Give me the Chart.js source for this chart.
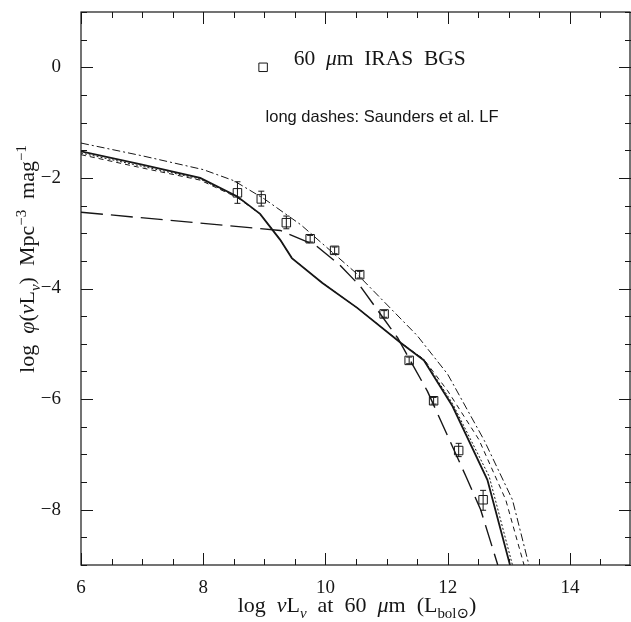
<!DOCTYPE html>
<html lang="en">
<head>
    <meta charset="UTF-8">
    <title>60 micron IRAS BGS luminosity function</title>
    <script src="https://cdn.jsdelivr.net/npm/chart.js"></script>
    <style>
        html, body { margin: 0; padding: 0; background: #fff; }
        #wrap { width: 631px; height: 622px; }
    </style>
</head>
<body>
    <div id="wrap"><canvas id="lf_chart" width="631" height="622"></canvas></div>

    <script>
        // IRAS BGS points (log L, log phi) and their error bar ends
        const bgsX = [8.56, 8.95, 9.36, 9.75, 10.15, 10.56, 10.96, 11.37, 11.77, 12.18, 12.58];
        const bgsY = [-2.27, -2.38, -2.81, -3.10, -3.31, -3.75, -4.46, -5.30, -6.03, -6.93, -7.82];
        const bgsLo = [-2.46, -2.51, -2.92, -3.16, -3.37, -3.81, -4.52, -5.36, -6.09, -7.04, -8.01];
        const bgsHi = [-2.07, -2.24, -2.69, -3.04, -3.25, -3.69, -4.40, -5.24, -5.97, -6.80, -7.65];

        // model curves
        const solidX = [6, 7, 7.95, 8.55, 8.93, 9.26, 9.45, 9.95, 10.52, 11.23, 11.61, 12.08, 12.65, 13.02];
        const solidY = [-1.52, -1.76, -2.0, -2.33, -2.65, -3.12, -3.45, -3.90, -4.35, -4.98, -5.30, -6.13, -7.46, -9.0];

        const dottedX = [6, 7, 7.95, 8.55, 8.93, 9.26, 9.45, 9.95, 10.52, 11.23, 11.61, 12.08, 12.68, 13.06];
        const dottedY = [-1.55, -1.79, -2.02, -2.34, -2.65, -3.12, -3.45, -3.90, -4.35, -4.98, -5.28, -6.08, -7.40, -9.0];

        const shortX = [6, 7, 7.95, 8.55, 8.93, 9.26, 9.45, 9.95, 10.52, 11.23, 11.61, 12.0, 12.51, 12.95, 13.25];
        const shortY = [-1.58, -1.82, -2.04, -2.35, -2.65, -3.12, -3.45, -3.90, -4.35, -4.98, -5.28, -5.85, -6.73, -7.82, -9.0];

        const dotDashX = [6, 7, 8, 8.5, 9.0, 9.6, 10.5, 11.5, 12.0, 12.6, 13.06, 13.33];
        const dotDashY = [-1.37, -1.6, -1.85, -2.05, -2.38, -2.85, -3.72, -4.85, -5.55, -6.75, -7.82, -9.0];

        const saundersX = [6, 9.26, 9.84, 10.23, 10.57, 11.18, 11.67, 12.30, 12.54, 12.82];
        const saundersY = [-2.62, -2.95, -3.22, -3.57, -3.96, -4.89, -5.86, -7.40, -8.0, -9.0];

        // axis ticks
        const xTicks = [6, 8, 10, 12, 14];
        const yTicks = [-8, -6, -4, -2, 0];

        const ink = "#161616";
        const serif = "'Liberation Serif', 'DejaVu Serif', serif";

        function pts(xs, ys) {
            return xs.map((x, i) => ({ x: x, y: ys[i] }));
        }

        function curve(data, dash, width) {
            return {
                data: data,
                showLine: true,
                borderColor: ink,
                borderWidth: width,
                borderDash: dash,
                pointRadius: 0,
                fill: false,
                tension: 0
            };
        }

        // draw a string made of pieces, some of them sub/superscript
        function richWidth(ctx, parts, size) {
            let w = 0;
            parts.forEach(p => {
                const s = p.sub || p.sup ? size * 0.68 : size;
                ctx.font = (p.it ? "italic " : "") + s + "px " + serif;
                w += ctx.measureText(p.t).width;
            });
            return w;
        }
        function drawRich(ctx, parts, x, y, size) {
            let cx = x - richWidth(ctx, parts, size) / 2;
            parts.forEach(p => {
                const s = p.sub || p.sup ? size * 0.68 : size;
                ctx.font = (p.it ? "italic " : "") + s + "px " + serif;
                let dy = 0;
                if (p.sub) dy = size * 0.28;
                if (p.sup) dy = -size * 0.38;
                ctx.fillText(p.t, cx, y + dy);
                cx += ctx.measureText(p.t).width;
            });
        }

        const framePlugin = {
            id: "frame",
            afterDatasetsDraw(chart) {
                const ctx = chart.ctx;
                const xs = chart.scales.x, ys = chart.scales.y;
                const a = chart.chartArea;
                ctx.save();
                ctx.strokeStyle = ink;
                ctx.lineWidth = 1.2;
                ctx.strokeRect(a.left, a.top, a.right - a.left - 1, a.bottom - a.top);

                // inward ticks on all four sides, every 0.5
                ctx.lineWidth = 1;
                ctx.beginPath();
                for (let v = xs.min; v <= xs.max + 1e-6; v += 0.5) {
                    const px = Math.round(xs.getPixelForValue(v)) + 0.5;
                    const len = (v % 2 === 0) ? 12 : 6;
                    ctx.moveTo(px, a.bottom); ctx.lineTo(px, a.bottom - len);
                    ctx.moveTo(px, a.top); ctx.lineTo(px, a.top + len);
                }
                for (let v = ys.min; v <= ys.max + 1e-6; v += 0.5) {
                    const py = Math.round(ys.getPixelForValue(v)) + 0.5;
                    const len = (Math.abs(v) % 2 === 0) ? 12 : 6;
                    ctx.moveTo(a.left, py); ctx.lineTo(a.left + len, py);
                    ctx.moveTo(a.right, py); ctx.lineTo(a.right - len, py);
                }
                ctx.stroke();

                // error bars on the BGS points
                ctx.beginPath();
                bgsX.forEach((x, i) => {
                    const px = xs.getPixelForValue(x);
                    const lo = ys.getPixelForValue(bgsLo[i]);
                    const hi = ys.getPixelForValue(bgsHi[i]);
                    ctx.moveTo(px, lo); ctx.lineTo(px, hi);
                    ctx.moveTo(px - 3, lo); ctx.lineTo(px + 3, lo);
                    ctx.moveTo(px - 3, hi); ctx.lineTo(px + 3, hi);
                });
                ctx.stroke();

                // labels
                ctx.fillStyle = ink;
                ctx.textBaseline = "middle";
                ctx.textAlign = "left";
                const ly = ys.getPixelForValue(0.14);
                let tx = xs.getPixelForValue(9.48);
                ctx.font = "21.5px " + serif;
                ctx.fillText("60  ", tx, ly);
                tx += ctx.measureText("60  ").width;
                ctx.font = "italic 21.5px " + serif;
                ctx.fillText("\u03bc", tx, ly);
                tx += ctx.measureText("\u03bc").width;
                ctx.font = "21.5px " + serif;
                ctx.fillText("m  IRAS  BGS", tx, ly);

                ctx.font = "16.5px 'Liberation Sans', Arial, sans-serif";
                ctx.fillText("long dashes: Saunders et al. LF", xs.getPixelForValue(9.02), ys.getPixelForValue(-0.91));

                // axis titles
                ctx.textBaseline = "alphabetic";
                drawRich(ctx, [
                    { t: "log  " }, { t: "\u03bd", it: true }, { t: "L" }, { t: "\u03bd", it: true, sub: true },
                    { t: "  at  60  " }, { t: "\u03bc", it: true }, { t: "m  (L" }, { t: "bol\u2299", sub: true }, { t: ")" }
                ], 357, 612, 22);

                ctx.translate(27, 259);
                ctx.rotate(-Math.PI / 2);
                drawRich(ctx, [
                    { t: "log  " }, { t: "\u03c6", it: true }, { t: "(" }, { t: "\u03bd", it: true }, { t: "L" },
                    { t: "\u03bd", it: true, sub: true }, { t: ")  Mpc" }, { t: "\u22123", sup: true },
                    { t: "  mag" }, { t: "\u22121", sup: true }
                ], 0, 7, 22);
                ctx.restore();
            }
        };

        new Chart("lf_chart", {
            type: "scatter",
            data: {
                datasets: [
                    curve(pts(dotDashX, dotDashY), [8, 3, 2, 3], 1),
                    curve(pts(shortX, shortY), [5, 4], 1),
                    curve(pts(dottedX, dottedY), [2, 2], 1),
                    curve(pts(saundersX, saundersY), [22, 8], 1.4),
                    curve(pts(solidX, solidY), [], 1.8),
                    {
                        data: pts(bgsX, bgsY),
                        pointStyle: "rect",
                        pointRadius: 6,
                        borderColor: ink,
                        borderWidth: 1,
                        backgroundColor: "rgba(255,255,255,0)"
                    },
                    {
                        // legend symbol next to the label
                        data: [{ x: 8.98, y: 0 }],
                        pointStyle: "rect",
                        pointRadius: 6,
                        borderColor: ink,
                        borderWidth: 1,
                        backgroundColor: "rgba(255,255,255,0)"
                    }
                ]
            },
            options: {
                responsive: false,
                animation: false,
                events: [],
                layout: { autoPadding: false, padding: { top: 12, right: 0, left: 0, bottom: 0 } },
                plugins: {
                    legend: { display: false },
                    tooltip: { enabled: false }
                },
                scales: {
                    x: {
                        type: "linear",
                        min: 6,
                        max: 15,
                        afterBuildTicks: s => { s.ticks = xTicks.map(v => ({ value: v })); },
                        afterFit: s => { s.height = 57; s.paddingLeft = 0; s.paddingRight = 0; },
                        grid: { display: false },
                        border: { display: false },
                        ticks: {
                            color: ink,
                            padding: 4,
                            maxRotation: 0,
                            font: { family: serif, size: 19 }
                        }
                    },
                    y: {
                        type: "linear",
                        min: -9,
                        max: 1,
                        afterBuildTicks: s => { s.ticks = yTicks.map(v => ({ value: v })); },
                        afterFit: s => { s.width = 81; s.paddingTop = 0; s.paddingBottom = 0; },
                        grid: { display: false },
                        border: { display: false },
                        ticks: {
                            color: ink,
                            padding: 12,
                            font: { family: serif, size: 19 },
                            callback: v => (v < 0 ? "\u2212" + Math.abs(v) : String(v))
                        }
                    }
                }
            },
            plugins: [framePlugin]
        });
    </script>
</body>
</html>
